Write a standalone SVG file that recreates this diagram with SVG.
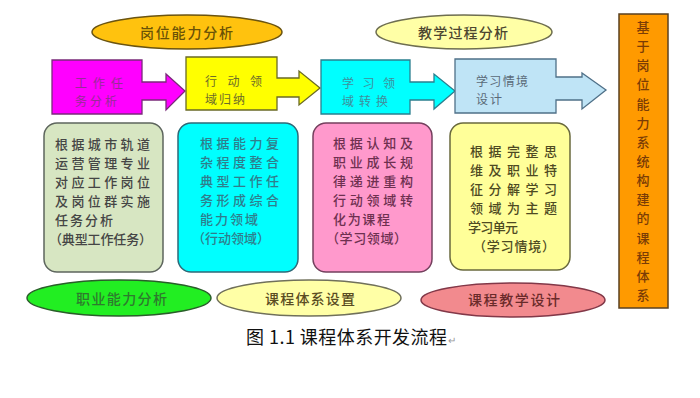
<svg xmlns="http://www.w3.org/2000/svg" width="700" height="398" viewBox="0 0 700 398">
<style>
text{font-family:"Noto Sans CJK SC","Liberation Sans",sans-serif;font-size:13px;}
.t{font-weight:500;}
.st{font-size:12px;}
.f14{font-size:14px;}
.f18{font-size:18px;}
.f10{font-size:10px;}
.sh{stroke-width:1.3;}
.rb{stroke-width:1.5;}
.el{stroke-width:1.5;}
</style>
<rect width="700" height="398" fill="#ffffff"/>
<g id="top-ellipses">
  <g id="e-gangwei">
    <ellipse cx="187" cy="32" rx="95" ry="17" fill="#ffc20e" stroke="#6b5410" class="el"/>
    <text x="140" y="38" textLength="93" lengthAdjust="spacing" fill="#6a5206" class="t f14">岗位能力分析</text>
  </g>
  <g id="e-jiaoxue">
    <ellipse cx="464" cy="32" rx="88" ry="17" fill="#ffffa6" stroke="#6e6e50" class="el"/>
    <text x="418" y="38" textLength="90" lengthAdjust="spacing" fill="#4d4630" class="t f14">教学过程分析</text>
  </g>
</g>
<g id="connectors"></g>
<g id="step1">
  <path d="M52,60 H142 V82 H166 V74 L185,91 L166,110 V100 H142 V114 H52 Z" fill="#ff00ff" stroke="#7a2a7a" class="sh"/>
  <text x="75" y="88" class="st" textLength="48" lengthAdjust="spacing" fill="#962c96">工 作 任</text>
  <text x="75" y="106" class="st" textLength="42" lengthAdjust="spacing" fill="#962c96">务分析</text>
</g>
<g id="step2">
  <path d="M186,57 H277 V78 H299 V71 L320,88 L299,105 V97 H277 V110 H186 Z" fill="#ffff00" stroke="#6a6a26" class="sh"/>
  <text x="205" y="86" class="st" textLength="57" lengthAdjust="spacing" fill="#6c6c2a">行 动 领</text>
  <text x="205" y="104" class="st" textLength="40" lengthAdjust="spacing" fill="#6c6c2a">域归纳</text>
</g>
<g id="step3">
  <path d="M321,60 H410 V82 H434 V74 L455,91 L434,109 V100 H410 V114 H321 Z" fill="#00ffff" stroke="#2a7f8f" class="sh"/>
  <text x="342" y="88" class="st" textLength="53" lengthAdjust="spacing" fill="#3f8f9c">学 习 领</text>
  <text x="342" y="106" class="st" textLength="46" lengthAdjust="spacing" fill="#3f8f9c">域转换</text>
</g>
<g id="step4">
  <path d="M455,59 H556 V77 H582 V73 L606,90 L582,109 V100 H556 V113 H455 Z" fill="#bfe4f6" stroke="#4f7088" class="sh"/>
  <text x="476" y="86" class="st" textLength="52" lengthAdjust="spacing" fill="#5a6a78">学习情境</text>
  <text x="476" y="104" class="st" textLength="26" lengthAdjust="spacing" fill="#5a6a78">设计</text>
</g>
<g id="box1">
  <rect x="44" y="123" width="119" height="149" rx="13" fill="#d7e6c2" stroke="#5e665e" class="rb"/>
  <g fill="#454545" class="t">
    <text x="55" y="149" textLength="95" lengthAdjust="spacing">根据城市轨道</text>
    <text x="55" y="168" textLength="95" lengthAdjust="spacing">运营管理专业</text>
    <text x="55" y="187" textLength="95" lengthAdjust="spacing">对应工作岗位</text>
    <text x="55" y="206" textLength="95" lengthAdjust="spacing">及岗位群实施</text>
    <text x="55" y="225" textLength="58" lengthAdjust="spacing">任务分析</text>
    <text x="49" y="244" textLength="103" lengthAdjust="spacing">（典型工作任务）</text>
  </g>
</g>
<g id="box2">
  <rect x="178" y="123" width="120" height="149" rx="13" fill="#00ffff" stroke="#2e6a78" class="rb"/>
  <g fill="#2f7d8c" class="t">
    <text x="200" y="148" textLength="79" lengthAdjust="spacing">根据能力复</text>
    <text x="200" y="167" textLength="79" lengthAdjust="spacing">杂程度整合</text>
    <text x="200" y="186" textLength="79" lengthAdjust="spacing">典型工作任</text>
    <text x="200" y="205" textLength="79" lengthAdjust="spacing">务形成综合</text>
    <text x="200" y="224" textLength="58" lengthAdjust="spacing">能力领域</text>
    <text x="192" y="243" textLength="78" lengthAdjust="spacing">（行动领域）</text>
  </g>
</g>
<g id="box3">
  <rect x="313" y="123" width="119" height="149" rx="13" fill="#ff99cc" stroke="#74405e" class="rb"/>
  <g fill="#6e3050" class="t">
    <text x="333" y="148" textLength="80" lengthAdjust="spacing">根据认知及</text>
    <text x="333" y="167" textLength="80" lengthAdjust="spacing">职业成长规</text>
    <text x="333" y="186" textLength="80" lengthAdjust="spacing">律递进重构</text>
    <text x="333" y="205" textLength="80" lengthAdjust="spacing">行动领域转</text>
    <text x="333" y="224" textLength="57" lengthAdjust="spacing">化为课程</text>
    <text x="326" y="243" textLength="81" lengthAdjust="spacing">（学习领域）</text>
  </g>
</g>
<g id="box4">
  <rect x="450" y="123" width="120" height="147" rx="13" fill="#ffff99" stroke="#6a6a3e" class="rb"/>
  <g fill="#4e4a22" class="t">
    <text x="470" y="156" textLength="87" lengthAdjust="spacing">根据完整思</text>
    <text x="470" y="175" textLength="87" lengthAdjust="spacing">维及职业特</text>
    <text x="470" y="194" textLength="87" lengthAdjust="spacing">征分解学习</text>
    <text x="470" y="213" textLength="87" lengthAdjust="spacing">领域为主题</text>
    <text x="468" y="232" textLength="50" lengthAdjust="spacing">学习单元</text>
    <text x="473" y="251" textLength="82" lengthAdjust="spacing">（学习情境）</text>
  </g>
</g>
<g id="side-bar">
  <rect x="619" y="14" width="49" height="294" fill="#ff9a00" stroke="#5a4020" stroke-width="1.5"/>
  <text x="643" y="32" text-anchor="middle" fill="#7a3c06" class="t">
    <tspan x="643" dy="0">基</tspan><tspan x="643" dy="19.14">于</tspan><tspan x="643" dy="19.14">岗</tspan><tspan x="643" dy="19.14">位</tspan><tspan x="643" dy="19.14">能</tspan><tspan x="643" dy="19.14">力</tspan><tspan x="643" dy="19.14">系</tspan><tspan x="643" dy="19.14">统</tspan><tspan x="643" dy="19.14">构</tspan><tspan x="643" dy="19.14">建</tspan><tspan x="643" dy="19.14">的</tspan><tspan x="643" dy="19.14">课</tspan><tspan x="643" dy="19.14">程</tspan><tspan x="643" dy="19.14">体</tspan><tspan x="643" dy="19.14">系</tspan>
  </text>
</g>
<g id="bottom-ellipses">
  <g id="e-zhiye">
    <ellipse cx="119" cy="298" rx="92" ry="18" fill="#22ee22" stroke="#2a5e2a" class="el"/>
    <text x="76" y="304" textLength="91" lengthAdjust="spacing" fill="#2e7a2e" class="t f14">职业能力分析</text>
  </g>
  <g id="e-kecheng">
    <ellipse cx="309" cy="298" rx="92" ry="18" fill="#ffffa6" stroke="#70705a" class="el"/>
    <text x="265" y="304" textLength="90" lengthAdjust="spacing" fill="#5a4c22" class="t f14">课程体系设置</text>
  </g>
  <g id="e-jiaoxuesheji">
    <ellipse cx="513" cy="300" rx="92" ry="17" fill="#f28a8e" stroke="#823848" class="el"/>
    <text x="468" y="305" textLength="92" lengthAdjust="spacing" fill="#6a2a2a" class="t f14">课程教学设计</text>
  </g>
</g>
<g id="caption">
  <text x="246" y="344" textLength="201" lengthAdjust="spacing" fill="#111111" class="f18">图 1.1 课程体系开发流程</text>
  <text x="448" y="344" fill="#999999" class="f10">↵</text>
</g>
</svg>
